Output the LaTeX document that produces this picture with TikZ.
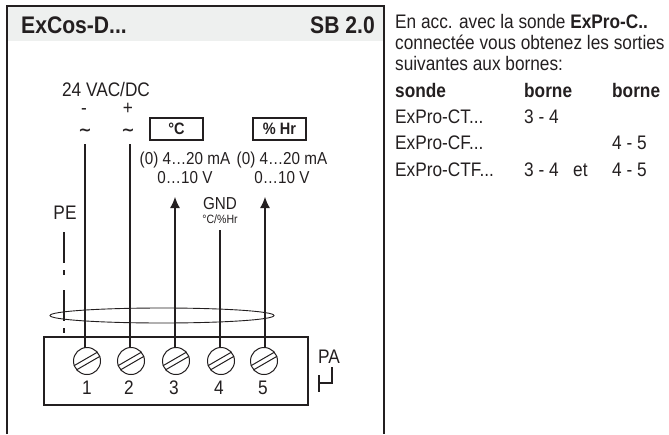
\documentclass[tikz,border=0pt]{standalone}
\usepackage{fontspec}
\setmainfont[FakeStretch=0.88]{Liberation Sans}
\newfontfamily\symfont{DejaVu Sans}
\usetikzlibrary{arrows.meta}
\definecolor{headgray}{RGB}{238,240,239}
\definecolor{inkgray}{RGB}{35,31,32}
\begin{document}
\begin{tikzpicture}[x=1pt, y=-1pt, every node/.style={inner sep=0pt, text=inkgray},
    wire/.style={draw=inkgray, line width=1.1pt},
    screw/.style={circle, draw=inkgray, line width=1pt, minimum size=27pt},
    unitbox/.style={draw=inkgray, line width=1.1pt, minimum width=53pt, minimum height=22pt, font=\fontsize{16.5}{16.5}\selectfont\bfseries},
    lbl/.style={font=\fontsize{17.3}{18}\selectfont, align=center},
    big/.style={font=\fontsize{19.6}{20}\selectfont, align=center},
    side/.style={anchor=west, font=\fontsize{19.6}{20}\selectfont}]
    \useasboundingbox (0,0) rectangle (669,434);
    \fill[headgray] (7,6) rectangle (383,41);
    \draw[inkgray, line width=1.3pt] (7,434) -- (7,6) -- (384,6) -- (384,434);
    \node[anchor=west, font=\fontsize{24}{24}\selectfont\bfseries] (title) at (21,25) {ExCos-D...};
    \node[anchor=east, font=\fontsize{24}{24}\selectfont\bfseries] (rating) at (375,25) {SB 2.0};
    % terminal block
    \node[draw=inkgray, line width=1.1pt, minimum width=264pt, minimum height=68pt] (block) at (176,371) {};
    \node[screw] (s1) at (87,361) {};
    \node[screw] (s2) at (131,361) {};
    \node[screw] (s3) at (176,361) {};
    \node[screw] (s4) at (221,361) {};
    \node[screw] (s5) at (264,361) {};
    \foreach \i/\xpos in {1/87, 2/129, 3/174, 4/219, 5/263} {
        \draw[inkgray, line width=1pt] (s\i.40) -- (s\i.200);
        \draw[inkgray, line width=1pt] (s\i.20) -- (s\i.220);
        \node[big] (n\i) at (\xpos,388) {\i};
    }
    % wire ends
    \coordinate (t1) at (85,144);
    \coordinate (b1) at (85,348);
    \coordinate (t2) at (130,144);
    \coordinate (b2) at (130,348);
    \coordinate (t3) at (175,197);
    \coordinate (b3) at (175,348);
    \coordinate (t4) at (220,230);
    \coordinate (b4) at (220,348);
    \coordinate (t5) at (265,197);
    \coordinate (b5) at (265,348);
    \foreach \from/\to in {b1/t1, b2/t2, b4/t4}
        \draw[wire] (\from) -- (\to);
    \foreach \from/\to in {b3/t3, b5/t5}
        \draw[wire, -{Latex[length=11pt,width=10pt]}] (\from) -- (\to);
    % PE wire
    \coordinate (pe) at (64,232);
    \coordinate (pe2) at (64,263);
    \coordinate (pe3) at (64,270);
    \coordinate (pe4) at (64,275);
    \coordinate (pe5) at (64,290);
    \coordinate (pe6) at (64,321);
    \coordinate (pe7) at (64,328);
    \coordinate (pe8) at (64,333);
    \foreach \from/\to in {pe/pe2, pe3/pe4, pe5/pe6, pe7/pe8}
        \draw[wire] (\from) -- (\to);
    % cable
    \draw[inkgray, line width=0.9pt] (162,315.5) ellipse [x radius=112, y radius=7.5];
    % labels
    \node[big] (supply) at (106,89) {24 VAC/DC};
    \node[big] (minus) at (84,112) {-};
    \node[big] (plus) at (128,109) {+};
    \node[font=\fontsize{16}{16}\symfont\bfseries] (ac1) at (85,132) {∼};
    \node[font=\fontsize{16}{16}\symfont\bfseries] (ac2) at (128,132) {∼};
    \node[unitbox] (deg) at (176.5,129) {°C};
    \node[unitbox] (hum) at (279.5,129) {\% Hr};
    \node[lbl] (out1) at (185,160) {(0) 4…20 mA};
    \node[lbl] (out1b) at (185,178) {0…10 V};
    \node[lbl] (out2) at (282,160) {(0) 4…20 mA};
    \node[lbl] (out2b) at (282,178) {0…10 V};
    \node[lbl] (gnd) at (220,204) {GND};
    \node[font=\fontsize{12}{12}\selectfont] (gndsub) at (220,219) {°C/\%Hr};
    \node[big] (pelabel) at (65,213) {PE};
    \node[big] (palabel) at (329,357) {PA};
    % ground mark
    \coordinate (g1) at (319,375);
    \coordinate (g2) at (319,392);
    \coordinate (g3) at (319,383);
    \coordinate (g4) at (332,383);
    \coordinate (g5) at (332,367);
    \draw[wire] (g1) -- (g2);
    \draw[wire] (g3) -- (g4) -- (g5);
    % side text
    \node[side] (p1) at (395,21) {En acc. avec la sonde \textbf{ExPro-C..}};
    \node[side] (p2) at (395,42) {connectée vous obtenez les sorties};
    \node[side] (p3) at (395,63) {suivantes aux bornes:};
    \node[side] (h1) at (395,90) {\textbf{sonde}};
    \node[side] (h2) at (524,90) {\textbf{borne}};
    \node[side] (h3) at (612,90) {\textbf{borne}};
    \node[side] (r1) at (395,117) {ExPro-CT...};
    \node[side] (r1a) at (524,117) {3 - 4};
    \node[side] (r2) at (395,143) {ExPro-CF...};
    \node[side] (r2b) at (612,143) {4 - 5};
    \node[side] (r3) at (395,170) {ExPro-CTF...};
    \node[side] (r3a) at (524,170) {3 - 4};
    \node[side] (r3e) at (573,170) {et};
    \node[side] (r3b) at (612,170) {4 - 5};
\end{tikzpicture}
\end{document}
